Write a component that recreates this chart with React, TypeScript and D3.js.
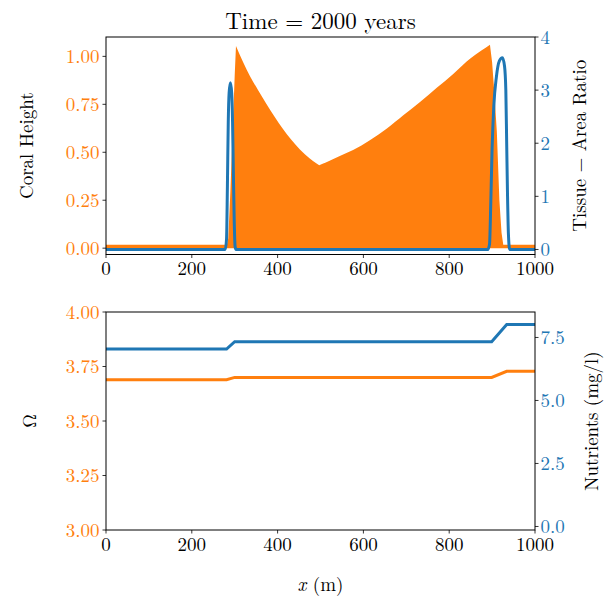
import React from "react";
import * as d3 from "d3";

// ---------- data ----------
const coralX = [0, 282, 285, 290, 295, 300, 303, 320, 336, 355, 374, 393, 413, 432, 452, 475, 490, 497, 505, 520, 545, 576, 615, 654, 693, 732, 771, 810, 850, 875, 895, 900, 905, 911, 917, 922, 926, 1000];
const coralH = [0.018, 0.018, 0.05, 0.3, 0.6, 0.9, 1.054, 0.968, 0.895, 0.822, 0.752, 0.685, 0.62, 0.565, 0.514, 0.468, 0.443, 0.432, 0.44, 0.455, 0.481, 0.512, 0.563, 0.623, 0.693, 0.762, 0.836, 0.91, 0.99, 1.03, 1.061, 0.97, 0.82, 0.61, 0.25, 0.08, 0.018, 0.018];
// segment break indices (peaks / troughs kept sharp)
const coralBreaks = [0, 6, 17, 30, 37];

const tissueX = [0, 278, 281, 283, 285, 287, 290, 293, 295, 297, 299, 301, 303, 890, 894, 897, 900, 904, 910, 917, 924, 929, 932, 934, 936, 938, 941, 1000];
const tissueR = [0, 0, 0.2, 1.2, 2.4, 2.95, 3.14, 2.95, 2.4, 1.4, 0.5, 0.05, 0, 0, 0.1, 0.9, 1.9, 2.7, 3.25, 3.55, 3.61, 3.45, 3.0, 2.0, 1.0, 0.3, 0, 0];

const envX = [0, 281, 300, 899, 934, 1000];
const omega = [3.689, 3.689, 3.7, 3.7, 3.728, 3.728];
const nutrients = [7.04, 7.04, 7.33, 7.33, 8.01, 8.01];

const xTicks = [0, 200, 400, 600, 800, 1000];
const coralTicks = [0, 0.25, 0.5, 0.75, 1.0];
const tissueTicks = [0, 1, 2, 3, 4];
const omegaTicks = [3.0, 3.25, 3.5, 3.75, 4.0];
const nutrientTicks = [0, 2.5, 5.0, 7.5];

const ORANGE = "#ff7f0e";
const BLUE = "#1f77b4";
const FONT = "'Latin Modern Roman', 'CMU Serif', 'Liberation Serif', serif";

// ---------- layout ----------
const L = 106, R = 535;
const T1 = 37, B1 = 254.5;
const T2 = 312, B2 = 530;

export default function App() {
  const x = d3.scaleLinear().domain([0, 1000]).range([L, R]);
  const yCoral = d3.scaleLinear().domain([-0.033, 1.101]).range([B1, T1]);
  const yTissue = d3.scaleLinear().domain([-0.095, 4.0]).range([B1, T1]);
  const yOmega = d3.scaleLinear().domain([3.0, 4.0]).range([B2, T2]);
  const yNut = d3.scaleLinear().domain([-0.14, 8.51]).range([B2, T2]);

  // Build a single coral area path from segments with different curves
  const curves = [d3.curveLinear, d3.curveMonotoneX, d3.curveMonotoneX, d3.curveLinear];
  const p = d3.path();
  let started = false;
  const ctx: any = {
    moveTo: (a: number, b: number) => { if (!started) { p.moveTo(a, b); started = true; } else p.lineTo(a, b); },
    lineTo: (a: number, b: number) => p.lineTo(a, b),
    bezierCurveTo: (a: number, b: number, c: number, d: number, e: number, f: number) => p.bezierCurveTo(a, b, c, d, e, f),
    quadraticCurveTo: (a: number, b: number, c: number, d: number) => p.quadraticCurveTo(a, b, c, d),
    closePath: () => {},
  };
  for (let s = 0; s < coralBreaks.length - 1; s++) {
    const idx = d3.range(coralBreaks[s], coralBreaks[s + 1] + 1);
    d3.line<number>().x(i => x(coralX[i])).y(i => yCoral(coralH[i])).curve(curves[s]).context(ctx)(idx);
  }
  p.lineTo(x(coralX[coralX.length - 1]), yCoral(0));
  p.lineTo(x(coralX[0]), yCoral(0));
  p.closePath();
  const coralPath = p.toString();

  const tissueLine = d3.line<number>()
    .x(i => x(tissueX[i])).y(i => yTissue(tissueR[i])).curve(d3.curveMonotoneX);
  const omegaLine = d3.line<number>().x(i => x(envX[i])).y(i => yOmega(omega[i]));
  const nutLine = d3.line<number>().x(i => x(envX[i])).y(i => yNut(nutrients[i]));
  const envIdx = envX.map((_, i) => i);

  const tick = 3.5;
  const fs = 19;

  const xAxis = (bottom: number, key: string) => (
    <g key={key}>
      {xTicks.map(t => (
        <g key={t}>
          <line x1={x(t)} x2={x(t)} y1={bottom} y2={bottom + tick} stroke="#000" strokeWidth={0.8} />
          <text x={x(t)} y={bottom + tick + 17} textAnchor="middle" fontSize={fs} fontFamily={FONT}>{t}</text>
        </g>
      ))}
    </g>
  );

  const leftAxis = (scale: d3.ScaleLinear<number, number>, ticks: number[], fmt: (v: number) => string, color: string) => (
    <g>
      {ticks.map(t => (
        <g key={t}>
          <line x1={L - tick} x2={L} y1={scale(t)} y2={scale(t)} stroke="#000" strokeWidth={0.8} />
          <text x={L - tick - 3} y={scale(t)} dy="0.35em" textAnchor="end" fontSize={fs} fill={color} fontFamily={FONT}>{fmt(t)}</text>
        </g>
      ))}
    </g>
  );

  const rightAxis = (scale: d3.ScaleLinear<number, number>, ticks: number[], fmt: (v: number) => string, color: string) => (
    <g>
      {ticks.map(t => (
        <g key={t}>
          <line x1={R} x2={R + tick} y1={scale(t)} y2={scale(t)} stroke="#000" strokeWidth={0.8} />
          <text x={R + tick + 2} y={scale(t)} dy="0.35em" textAnchor="start" fontSize={fs} fill={color} fontFamily={FONT}>{fmt(t)}</text>
        </g>
      ))}
    </g>
  );

  return (
    <svg width={616} height={600} style={{ position: "absolute", left: 0, top: 0, background: "#fff" }}>
      <rect width={616} height={600} fill="#fff" />
      <defs>
        <clipPath id="c1"><rect x={L} y={T1} width={R - L} height={B1 - T1} /></clipPath>
        <clipPath id="c2"><rect x={L} y={T2} width={R - L} height={B2 - T2} /></clipPath>
      </defs>

      {/* Top panel */}
      <text x={(L + R) / 2} y={29} textAnchor="middle" fontSize={23} fontFamily={FONT}>Time = 2000 years</text>
      <g clipPath="url(#c1)">
        <path d={coralPath} fill={ORANGE} />
        <path d={tissueLine(tissueX.map((_, i) => i)) || ""} fill="none" stroke={BLUE} strokeWidth={3} strokeLinejoin="round" />
      </g>
      <rect x={L} y={T1} width={R - L} height={B1 - T1} fill="none" stroke="#000" strokeWidth={1} />
      {xAxis(B1, "x1")}
      {leftAxis(yCoral, coralTicks, d3.format(".2f"), ORANGE)}
      {rightAxis(yTissue, tissueTicks, d3.format("d"), BLUE)}
      <text transform={`translate(33,${(T1 + B1) / 2}) rotate(-90)`} textAnchor="middle" fontSize={fs} fontFamily={FONT}>Coral Height</text>
      <text transform={`translate(586,${(T1 + B1) / 2}) rotate(-90)`} textAnchor="middle" fontSize={fs} fontFamily={FONT}>Tissue − Area Ratio</text>

      {/* Bottom panel */}
      <g clipPath="url(#c2)">
        <path d={omegaLine(envIdx) || ""} fill="none" stroke={ORANGE} strokeWidth={3} />
        <path d={nutLine(envIdx) || ""} fill="none" stroke={BLUE} strokeWidth={3} />
      </g>
      <rect x={L} y={T2} width={R - L} height={B2 - T2} fill="none" stroke="#000" strokeWidth={1} />
      {xAxis(B2, "x2")}
      {leftAxis(yOmega, omegaTicks, d3.format(".2f"), ORANGE)}
      {rightAxis(yNut, nutrientTicks, d3.format(".1f"), BLUE)}
      <text transform={`translate(36,${(T2 + B2) / 2}) rotate(-90)`} textAnchor="middle" fontSize={fs} fontFamily={FONT}>Ω</text>
      <text transform={`translate(598,${(T2 + B2) / 2}) rotate(-90)`} textAnchor="middle" fontSize={fs} fontFamily={FONT}>Nutrients (mg/l)</text>

      <text x={(L + R) / 2} y={591} textAnchor="middle" fontSize={fs} fontFamily={FONT}>
        <tspan fontStyle="italic">x</tspan> (m)
      </text>
    </svg>
  );
}
